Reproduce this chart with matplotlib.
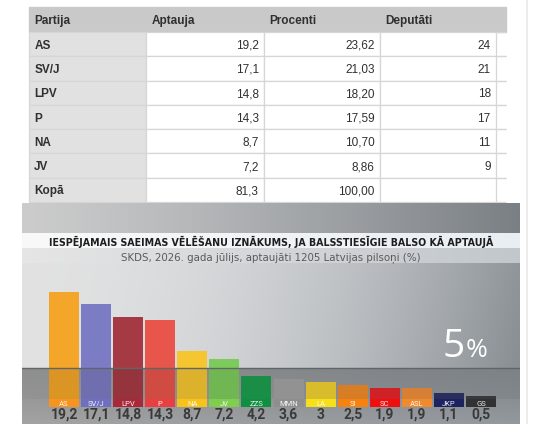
import numpy as np
import matplotlib
matplotlib.use('Agg')
import matplotlib.pyplot as plt
from matplotlib.table import Table
from matplotlib.lines import Line2D

# ---------------- data ----------------
tbl_header = ['Partija', 'Aptauja', 'Procenti', 'Deputāti']
tbl_party = ['AS', 'SV/J', 'LPV', 'P', 'NA', 'JV', 'Kopā']
tbl_aptauja = [19.2, 17.1, 14.8, 14.3, 8.7, 7.2, 81.3]
tbl_procenti = [23.62, 21.03, 18.20, 17.59, 10.70, 8.86, 100.00]
tbl_deputati = [24, 21, 18, 17, 11, 9, None]

parties = ['AS', 'SV/J', 'LPV', 'P', 'NA', 'JV', 'ZZS', 'MMN', 'LA', 'S!', 'SC', 'ASL', 'JKP', 'GS']
values = [19.2, 17.1, 14.8, 14.3, 8.7, 7.2, 4.2, 3.6, 3, 2.5, 1.9, 1.9, 1.1, 0.5]
bar_colors = ['#f4a62a', '#7c7cc4', '#a63a44', '#e8554b', '#f5c630', '#7dcb5c', '#1e9e4e',
              '#a3a3a3', '#f2d230', '#f08c2a', '#e8262b', '#ef8f3c', '#2e3468', '#3d3f42']
box_colors = ['#f7931e', '#6f6fc0', '#a8283a', '#e84040', '#f7c21a', '#7fcf4f', '#0f8f3f',
              '#8e8e8e', '#f7e01a', '#f7820f', '#f00f0f', '#f08a2f', '#1d2260', '#2f3133']
chart_title = 'IESPĒJAMAIS SAEIMAS VĒLĒŠANU IZNĀKUMS, JA BALSSTIESĪGIE BALSO KĀ APTAUJĀ'
chart_subtitle = 'SKDS, 2026. gada jūlijs, aptaujāti 1205 Latvijas pilsoņi (%)'
threshold_num = '5'
threshold_sign = '%'

def lv(v, d):
    return f'{v:.{d}f}'.replace('.', ',')

# ---------------- figure ----------------
W, H = 540, 424
fig = plt.figure(figsize=(W / 100, H / 100), dpi=100)
fig.patch.set_facecolor('white')

def fx(px):
    return px / W

def fy(py):
    return 1 - py / H

# ---------------- table ----------------
tx0, tx1, ty0, ty1 = 29, 506, 7, 202
ax_t = fig.add_axes([fx(tx0), fy(ty1), (tx1 - tx0) / W, (ty1 - ty0) / H])
ax_t.axis('off')
tb = Table(ax_t, bbox=[0, 0, 1, 1])
tb.auto_set_font_size(False)
col_w = np.array([117, 118, 116, 116, 10], float)
col_w = col_w / col_w.sum()
row_h = np.array([25] + [170 / 7] * len(tbl_party))
row_h = row_h / row_h.sum()
edge = '#d6d6d6'
txt_col = '#303030'
fam = ['Liberation Sans', 'DejaVu Sans']
for c in range(5):
    text = tbl_header[c] if c < 4 else ''
    cell = tb.add_cell(0, c, col_w[c], row_h[0], text=text, loc='left',
                       facecolor='#c9c9c9', edgecolor='#c9c9c9')
    cell.PAD = 0.045
    cell.get_text().set(fontsize=8.5, fontweight='bold', color=txt_col,
                        family=fam, ha='left', va='center_baseline')
for r in range(len(tbl_party)):
    dep = tbl_deputati[r]
    row_vals = [tbl_party[r], lv(tbl_aptauja[r], 1), lv(tbl_procenti[r], 2),
                '' if dep is None else str(dep), '']
    for c in range(5):
        fc = '#e1e1e1' if c == 0 else 'white'
        cell = tb.add_cell(r + 1, c, col_w[c], row_h[r + 1], text=row_vals[c],
                           loc='left' if c == 0 else 'right', facecolor=fc,
                           edgecolor=edge)
        cell.visible_edges = 'closed' if c < 4 else 'TB'
        cell.PAD = 0.045
        cell.set_linewidth(0.9)
        cell.get_text().set(fontsize=8.5, fontweight='bold' if c == 0 else 'normal',
                            color=txt_col, family=fam, va='center_baseline',
                            ha='left' if c == 0 else 'right')
ax_t.add_table(tb)

# faint vertical line on the right of the page
fig.add_artist(Line2D([fx(527), fx(527)], [0, 1], color='#e9e9e9', lw=1.2))

# ---------------- chart panel ----------------
px0, px1, py0, py1 = 22, 520, 203, 424
ax = fig.add_axes([fx(px0), 0, (px1 - px0) / W, (py1 - py0) / H])
ax.axis('off')
pitch = 32.08
first_c = 64 - px0
s = 5.55
base_py = 399
xl = (-first_c / pitch, ((px1 - px0) - first_c) / pitch)
yl = (-(py1 - base_py) / s, (base_py - py0) / s)
ax.set_xlim(*xl)
ax.set_ylim(*yl)

def yd(py):
    return (base_py - py) / s

def xd(px):
    return (px - px0 - first_c) / pitch

# background gradient
rows = np.arange(py0, py1)[:, None].astype(float)
cols = np.arange(px0, px1)[None, :].astype(float)
shape = (rows.shape[0], cols.shape[1])
uu = np.broadcast_to((cols - px0) / (px1 - px0), shape)
rr = np.broadcast_to(rows, shape)
L = np.zeros(shape)
L = np.where(rr < 233, 0.80 - 0.30 * uu ** 1.2, L)
L = np.where((rr >= 233) & (rr < 248), 0.975 - 0.04 * uu, L)
L = np.where((rr >= 248) & (rr < 263), 0.90 - 0.12 * uu, L)
vmain = (rr - 263) / 105
L = np.where((rr >= 263) & (rr < 368), 0.885 - 0.30 * uu ** 2.0 - 0.03 * vmain * uu, L)
L = np.where((rr >= 368) & (rr < 399), 0.56 - 0.05 * uu + 0.02 * (rr - 368) / 31, L)
L = np.where(rr >= 399, 0.60 - 0.04 * uu + 0.04 * (rr - 399) / 25, L)
tint = 0.035 * uu
img = np.stack([L - tint * 0.6, L, L + tint * 0.6], axis=-1).clip(0, 1)
ax.imshow(img, extent=(xl[0], xl[1], yl[0], yl[1]), origin='upper', aspect='auto',
          interpolation='bilinear', zorder=0)

x = np.arange(len(values))
bw = 30 / pitch
vals = np.array(values, float)
ax.bar(x, vals, width=bw, color=bar_colors, linewidth=0, zorder=2)
band_top = yd(368)
ax.bar(x, np.minimum(vals, band_top), width=bw, color='black', alpha=0.10,
       linewidth=0, zorder=3)
ax.axhline(band_top, color='#60656a', lw=1.0, zorder=4)

box_h = (407 - base_py) / s
ax.bar(x, box_h, bottom=-box_h, width=bw, color=box_colors, linewidth=0, zorder=5)
for i, p in enumerate(parties):
    ax.text(i, -box_h / 2, p, ha='center', va='center_baseline', fontsize=5.5,
            color='white', alpha=0.9, family=['Roboto', 'DejaVu Sans'], zorder=6)
    ax.text(i, yd(413.5), f'{values[i]:g}'.replace('.', ','), ha='center',
            va='center_baseline', fontsize=10, fontweight='bold', color='#3a3a3a',
            family=['Roboto', 'DejaVu Sans'], zorder=6)

xc = (xl[0] + xl[1]) / 2
t1 = ax.text(xc, yd(241), chart_title, ha='center', va='center_baseline', fontsize=6.3,
             fontweight='bold', color='#1e1e1e', family=['DejaVu Sans'], zorder=6)
t2 = ax.text(xc, yd(256), chart_subtitle, ha='center', va='center_baseline',
             fontsize=6.5, color='#5a5a5a', family=['DejaVu Sans'], zorder=6)

# fit title widths
fig.canvas.draw()
r = fig.canvas.get_renderer()
for t, target in ((t1, 442), (t2, 303)):
    w = t.get_window_extent(r).width
    t.set_fontsize(t.get_fontsize() * target / w)

ax.text(xd(465), yd(357), threshold_num, ha='right', va='baseline', fontsize=28,
        color='white', family=['Open Sans', 'DejaVu Sans'], fontweight='normal', zorder=6)
ax.text(xd(466), yd(357), threshold_sign, ha='left', va='baseline', fontsize=19,
        color='white', family=['Open Sans', 'DejaVu Sans'], fontweight='normal', zorder=6)

fig.savefig('out.png', dpi=100, facecolor='white')
